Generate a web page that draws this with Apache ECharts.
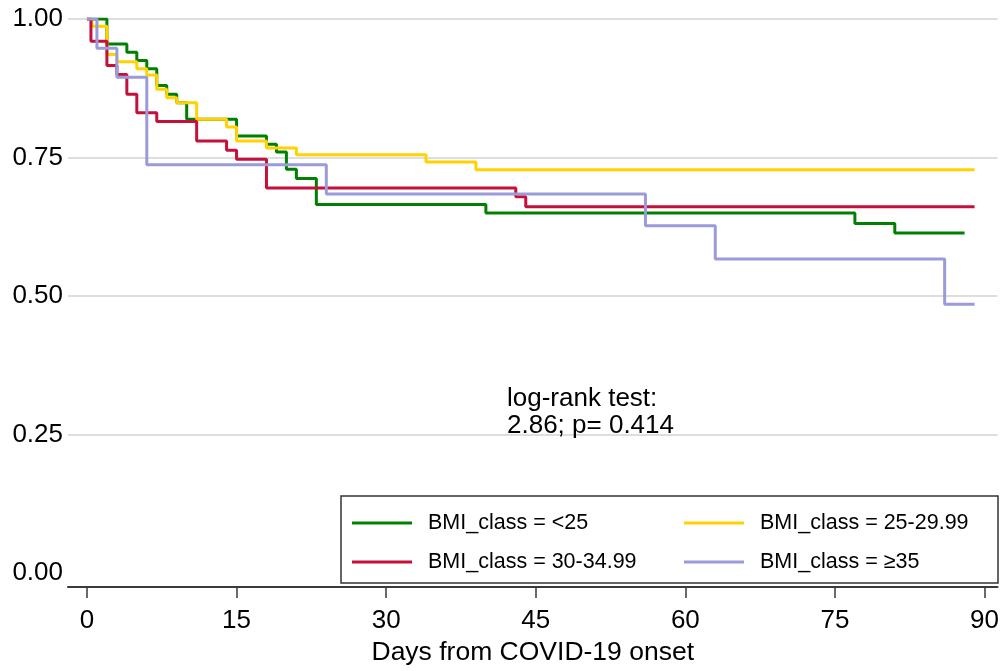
<!DOCTYPE html>
<html>
<head>
<meta charset="utf-8">
<script src="https://cdn.jsdelivr.net/npm/echarts@6/dist/echarts.min.js"></script>
<style>
html,body{margin:0;padding:0;background:#fff;}
#chart{width:1002px;height:671px;}
</style>
</head>
<body>
<div id="chart"></div>
<script>
// Kaplan-Meier step data: [day, survival]
const seriesNames = ['BMI_class = <25', 'BMI_class = 25-29.99', 'BMI_class = 30-34.99', 'BMI_class = \u226535'];
const bmiUnder25 = [[0,1.0],[2,0.955],[4,0.940],[5,0.925],[6,0.910],[7,0.880],[8,0.864],[9,0.849],[10,0.819],[15,0.789],[18,0.774],[19,0.760],[20,0.729],[21,0.712],[23,0.665],[40,0.650],[77,0.631],[81,0.614],[88,0.614]];
const bmi25to30 = [[0,1.0],[0.5,0.987],[2,0.936],[3,0.923],[5,0.910],[6,0.899],[7,0.873],[8,0.858],[9,0.849],[11,0.819],[14,0.805],[15,0.780],[18,0.767],[21,0.755],[34,0.742],[39,0.728],[89,0.728]];
const bmi30to35 = [[0,1.0],[0.4,0.960],[2,0.916],[3,0.900],[4,0.864],[5,0.831],[7,0.815],[11,0.780],[14,0.763],[15,0.747],[18,0.695],[43,0.679],[44,0.661],[89,0.661]];
const bmiOver35 = [[0,1.0],[1,0.947],[3,0.895],[6,0.737],[24,0.684],[56,0.627],[63,0.567],[86,0.485],[89,0.485]];
const xTicks = [0,15,30,45,60,75,90];
const seriesColors = ['#008000','#FFD200','#C4103A','#9B9BD9'];
const testText = ['log-rank test:', '2.86; p= 0.414'];

const font = '"Liberation Sans", Arial, Helvetica, sans-serif';
const allData = [bmiUnder25, bmi25to30, bmi30to35, bmiOver35];

const chart = echarts.init(document.getElementById('chart'), null, {renderer:'canvas'});
chart.setOption({
  animation:false,
  backgroundColor:'#ffffff',
  grid:{left:68, right:4, top:19, bottom:91, containLabel:false},
  xAxis:{
    type:'value', min:-1.9, max:91.3, offset:14,
    axisLine:{show:true, onZero:false, lineStyle:{color:'#3a3a3a', width:2}},
    axisTick:{show:true, length:11, lineStyle:{color:'#3a3a3a', width:1.5}, customValues:xTicks},
    axisLabel:{customValues:xTicks, color:'#000', fontSize:26, fontFamily:font, margin:21},
    splitLine:{show:false},
    name:'Days from COVID-19 onset', nameLocation:'middle', nameGap:41,
    nameTextStyle:{color:'#000', fontSize:26.5, fontFamily:font}
  },
  yAxis:{
    type:'value', min:0, max:1, interval:0.25,
    axisLine:{show:false}, axisTick:{show:false},
    axisLabel:{color:'#000', fontSize:26, fontFamily:font, margin:5, formatter:v=>v.toFixed(2)},
    splitLine:{show:true, showMinLine:false, lineStyle:{color:'#dedede', width:2}}
  },
  legend:[
    {data:[seriesNames[0], seriesNames[2]], orient:'vertical', left:352, top:512, padding:0, itemWidth:60, itemHeight:3, itemGap:17,
     icon:'rect', textStyle:{color:'#000', fontSize:21.5, fontFamily:font, padding:[0,0,0,11]}},
    {data:[seriesNames[1], seriesNames[3]], orient:'vertical', left:684, top:512, padding:0, itemWidth:60, itemHeight:3, itemGap:17,
     icon:'rect', textStyle:{color:'#000', fontSize:21.5, fontFamily:font, padding:[0,0,0,11]}}
  ],
  graphic:[
    {type:'rect', shape:{x:341, y:496, width:657, height:87}, style:{fill:'none', stroke:'#333', lineWidth:1.5}, z:0},
    {type:'text', left:507, top:386, z:100, style:{text:testText[0], fill:'#000', font:'26px '+font}},
    {type:'text', left:507, top:413, z:100, style:{text:testText[1], fill:'#000', font:'26px '+font}}
  ],
  series: allData.map((d,i)=>({
    name:seriesNames[i], type:'line', step:'end', data:d, showSymbol:false, symbol:'none',
    lineStyle:{color:seriesColors[i], width:3}, itemStyle:{color:seriesColors[i]}, z:2+i
  }))
});
</script>
</body>
</html>
